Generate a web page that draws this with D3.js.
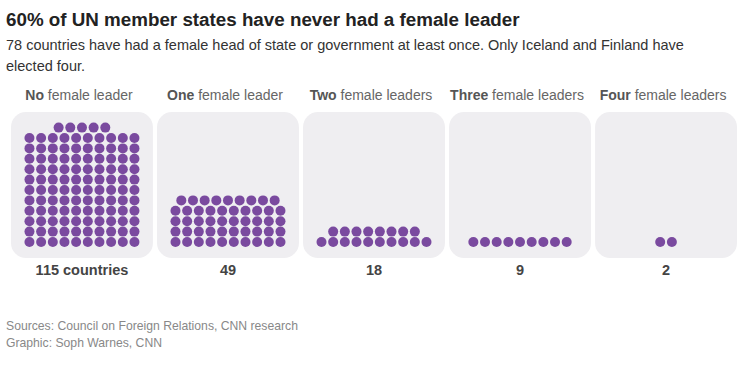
<!DOCTYPE html>
<html><head><meta charset="utf-8">
<script src="https://cdn.jsdelivr.net/npm/d3@7"></script>
<style>
body{margin:0;background:#fff;}
svg{display:block;font-family:"Liberation Sans",Arial,sans-serif;}
</style></head>
<body><svg id="c" width="755" height="373"></svg>
<script>
const title = "60% of UN member states have never had a female leader";
const subtitle = ["78 countries have had a female head of state or government at least once. Only Iceland and Finland have", "elected four."];
const categoryBold = ["No", "One", "Two", "Three", "Four"];
const categoryRest = ["female leader", "female leader", "female leaders", "female leaders", "female leaders"];
const counts = [115, 49, 18, 9, 2];
const countLabels = ["115 countries", "49", "18", "9", "2"];
const sources = ["Sources: Council on Foreign Relations, CNN research", "Graphic: Soph Warnes, CNN"];

const svg = d3.select("#c");
const perRow = 10;
const dotColor = "#7a4a9f";

svg.append("text").attr("x", 6).attr("y", 26).attr("font-size", 18.8).attr("font-weight", "bold").attr("fill", "#222").text(title);
subtitle.forEach((s, i) => svg.append("text").attr("x", 6).attr("y", 50 + i * 21).attr("font-size", 14.5).attr("fill", "#333").text(s));

const x = d3.scaleBand().domain(d3.range(counts.length)).range([11, 737]).paddingInner(0.028);
const colX = d3.scaleLinear().domain([0, perRow - 1]).range([-52.5, 52.5]);
const rowY = d3.scaleLinear().domain([0, 1]).range([242, 231.6]);
const panelTop = 112, panelBottom = 258;

const g = svg.selectAll("g.panel").data(counts).join("g").attr("class", "panel")
  .attr("transform", (d, i) => `translate(${x(i) + x.bandwidth() / 2},0)`);

g.append("rect").attr("x", -x.bandwidth() / 2).attr("y", panelTop).attr("width", x.bandwidth())
  .attr("height", panelBottom - panelTop).attr("rx", 15).attr("fill", "#efeef1");

const lbl = g.append("text").attr("x", -3).attr("y", 100).attr("text-anchor", "middle").attr("font-size", 14).attr("fill", "#666");
lbl.append("tspan").attr("font-weight", "bold").attr("fill", "#555").text((d, i) => categoryBold[i]);
lbl.append("tspan").text((d, i) => " " + categoryRest[i]);

g.append("text").attr("y", 275).attr("text-anchor", "middle").attr("font-size", 14.5).attr("font-weight", "bold")
  .attr("fill", "#444").text((d, i) => countLabels[i]);

g.each(function(n) {
  const dots = [];
  const fullRows = Math.floor(n / perRow);
  const rem = n % perRow;
  for (let r = 0; r < fullRows; r++) for (let c = 0; c < perRow; c++) dots.push({ c, r });
  const off = (perRow - rem) / 2;
  for (let c = 0; c < rem; c++) dots.push({ c: c + off, r: fullRows });
  d3.select(this).selectAll("circle").data(dots).join("circle")
    .attr("cx", d => colX(d.c)).attr("cy", d => rowY(d.r)).attr("r", 5).attr("fill", dotColor);
});

sources.forEach((s, i) => svg.append("text").attr("x", 6).attr("y", 330 + i * 16.5).attr("font-size", 12.2).attr("fill", "#888").text(s));
</script></body></html>
